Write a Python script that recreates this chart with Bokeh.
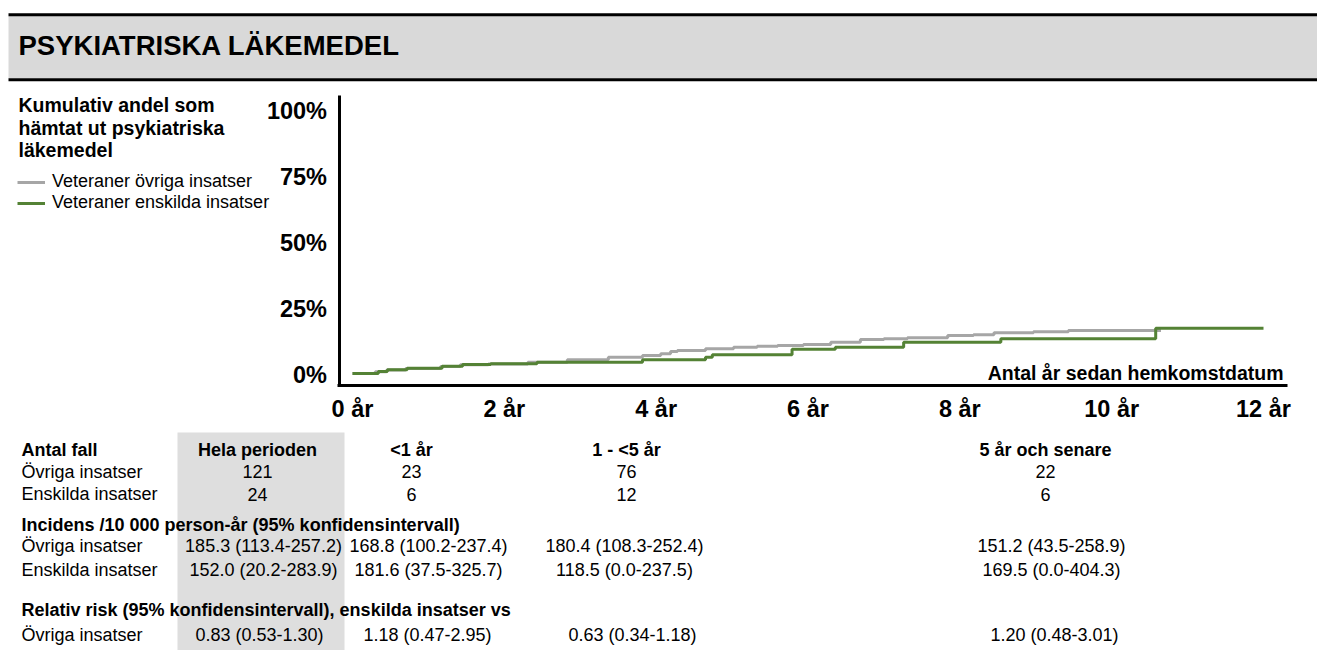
from bokeh.plotting import figure
from bokeh.models import (Range1d, LinearAxis, FixedTicker, PrintfTickFormatter,
                          Legend, LegendItem)
from bokeh.core.properties import value
from bokeh.embed import file_html
from bokeh.resources import INLINE

W, H = 1317, 650
FONT = "Liberation Sans"

# ---------------- data ----------------
# cumulative share (%) that collected psychiatric drugs, by years since homecoming
years_ovriga = [0.0, 0.30, 0.45, 0.70, 1.16, 1.42, 1.79, 2.31, 2.83, 3.37, 3.82, 4.06,
                4.19, 4.28, 4.65, 5.02, 5.33, 5.60, 5.94, 6.30, 6.69, 7.00, 7.31, 7.84,
                8.18, 8.45, 8.97, 9.43, 10.65]
cum_ovriga = [0.38, 1.02, 1.70, 2.31, 3.03, 3.71, 4.02, 4.66, 5.57, 6.55, 7.20, 7.84,
              8.71, 9.09, 9.73, 10.34, 10.72, 10.98, 11.36, 12.23, 13.26, 13.52, 13.90,
              14.77, 15.04, 15.80, 16.17, 16.67, 16.67]

years_enskilda = [0.0, 0.34, 0.46, 0.72, 1.18, 1.45, 1.82, 2.43, 3.82, 4.65, 4.74,
                  5.79, 6.36, 7.26, 8.54, 10.58, 12.0]
cum_enskilda = [0.38, 1.14, 1.78, 2.39, 3.14, 3.79, 4.05, 4.66, 5.57, 6.55, 7.46,
                9.55, 10.34, 12.23, 13.52, 17.54, 17.54]

series_names = ["Veteraner övriga insatser", "Veteraner enskilda insatser"]
y_ticks = [0, 25, 50, 75, 100]
x_ticks = [0, 2, 4, 6, 8, 10, 12]

# table below the chart
period_headers = ["Hela perioden", "<1 år", "1 - <5 år", "5 år och senare"]
group_names = ["Övriga insatser", "Enskilda insatser"]
cases_ovriga = ["121", "23", "76", "22"]
cases_enskilda = ["24", "6", "12", "6"]
incidence_ovriga = ["185.3 (113.4-257.2)", "168.8 (100.2-237.4)",
                    "180.4 (108.3-252.4)", "151.2 (43.5-258.9)"]
incidence_enskilda = ["152.0 (20.2-283.9)", "181.6 (37.5-325.7)",
                      "118.5 (0.0-237.5)", "169.5 (0.0-404.3)"]
rel_risk = ["0.83 (0.53-1.30)", "1.18 (0.47-2.95)", "0.63 (0.34-1.18)", "1.20 (0.48-3.01)"]

# ---------------- layout ----------------
GRAY = "#a6a6a6"
GREEN = "#548235"

X0_PX, X12_PX = 352, 1263      # screen x of 0 and 12 years
Y0_PX, Y100_PX = 374, 110      # screen y of 0 % and 100 %
ppy = (X12_PX - X0_PX) / 12.0
ppp = (Y0_PX - Y100_PX) / 100.0


def xd(px):
    return (px - X0_PX) / ppy


def yd(py):
    return (Y0_PX - py) / ppp


p = figure(width=W, height=H,
           x_range=Range1d(xd(0), xd(W)), y_range=Range1d(yd(H), yd(0)),
           output_backend="svg", toolbar_location=None,
           x_axis_location=None, y_axis_location=None, min_border=0)
p.grid.visible = False
p.outline_line_color = None
p.background_fill_color = "white"
p.border_fill_color = "white"

# pixel-based ranges for the page furniture
p.extra_x_ranges = {"px": Range1d(0, W)}
p.extra_y_ranges = {"px": Range1d(H, 0)}
PX = dict(x_range_name="px", y_range_name="px")

# header band
p.quad(left=[8], right=[W], top=[15.5], bottom=[78], fill_color="#d9d9d9",
       line_color=None, **PX)
p.segment(x0=[8, 8], y0=[14.3, 79.3], x1=[W, W], y1=[14.3, 79.3],
          line_color="black", line_width=3, **PX)

# shaded column of the table
p.quad(left=[177], right=[344], top=[432], bottom=[H], fill_color="#dedede",
       line_color=None, **PX)


def put(texts, xs, baselines, align="left", bold=False, size=18):
    # baselines are given in page pixels; shift to the glyph's text anchor
    ys = [b - 0.36 * size for b in baselines]
    p.text(x=xs, y=ys, text=texts, text_font=value(FONT), text_font_size=f"{size}px",
           text_font_style="bold" if bold else "normal", text_align=align,
           text_baseline="alphabetic", text_color="black", **PX)


put(["PSYKIATRISKA LÄKEMEDEL"], [18], [55], bold=True, size=27.5)
put(["Kumulativ andel som", "hämtat ut psykiatriska", "läkemedel"],
    [18, 18, 18], [112, 134.5, 157], bold=True, size=19.5)

# curves
r_gray = p.step(years_ovriga, cum_ovriga, mode="after", line_width=3, line_color=GRAY)
r_green = p.step(years_enskilda, cum_enskilda, mode="after", line_width=3, line_color=GREEN)

legend = Legend(items=[LegendItem(label=series_names[0], renderers=[r_gray]),
                       LegendItem(label=series_names[1], renderers=[r_green])],
                location=(17, H - 213), orientation="vertical",
                border_line_color=None, background_fill_alpha=0,
                padding=0, margin=0, spacing=0, glyph_width=28, glyph_height=20,
                label_height=20, label_standoff=7,
                label_text_font=FONT, label_text_font_size="18px",
                label_text_color="black")
p.add_layout(legend)

# axes drawn at fixed positions inside the canvas
yaxis = LinearAxis(fixed_location=xd(338.5), bounds=(yd(386), yd(95)),
                   ticker=FixedTicker(ticks=y_ticks),
                   formatter=PrintfTickFormatter(format="%d%%"),
                   axis_line_width=3, axis_line_color="black",
                   major_tick_line_color=None, minor_tick_line_color=None,
                   major_tick_out=0, major_tick_in=0, major_label_standoff=12,
                   major_label_text_font=FONT, major_label_text_font_style="bold",
                   major_label_text_font_size="23.5px", major_label_text_color="black")
p.add_layout(yaxis, "left")

xaxis = LinearAxis(fixed_location=yd(384.7), bounds=(xd(337), xd(1287)),
                   ticker=FixedTicker(ticks=x_ticks),
                   formatter=PrintfTickFormatter(format="%d år"),
                   axis_line_width=3, axis_line_color="black",
                   major_tick_line_color=None, minor_tick_line_color=None,
                   major_tick_out=0, major_tick_in=0, major_label_standoff=11,
                   major_label_text_font=FONT, major_label_text_font_style="bold",
                   major_label_text_font_size="23.5px", major_label_text_color="black")
p.add_layout(xaxis, "below")

put(["Antal år sedan hemkomstdatum"], [1283], [379.5], align="right", bold=True, size=19.5)

# table
LABEL_X = 21
cases_x = [257, 411, 626, 1045]
inc_x = [263, 428, 624, 1051]
rr_x = [259, 427, 632, 1054]

put(["Antal fall"], [LABEL_X], [456], bold=True)
put(period_headers, cases_x, [456] * 4, align="center", bold=True)
put(group_names, [LABEL_X] * 2, [477.5, 500])
put(cases_ovriga, cases_x, [477.5] * 4, align="center")
put(cases_enskilda, cases_x, [500] * 4, align="center")

put(["Incidens /10 000 person-år (95% konfidensintervall)"], [LABEL_X], [531], bold=True)
put(group_names, [LABEL_X] * 2, [552, 575.5])
put(incidence_ovriga, inc_x, [552] * 4, align="center")
put(incidence_enskilda, inc_x, [575.5] * 4, align="center")

put(["Relativ risk (95% konfidensintervall), enskilda insatser vs"], [LABEL_X], [616], bold=True)
put([group_names[0]], [LABEL_X], [641])
put(rel_risk, rr_x, [641] * 4, align="center")

open("out.html", "w").write(file_html(p, INLINE))
